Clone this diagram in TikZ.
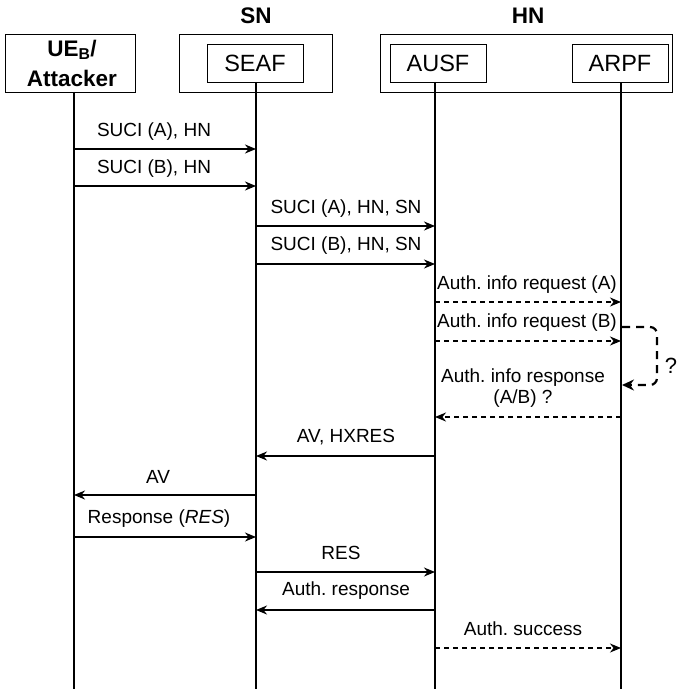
\documentclass[tikz,border=0pt]{standalone}
\usepackage{fontspec}
\setmainfont{Liberation Sans}
\usetikzlibrary{arrows.meta}
\frenchspacing
\begin{document}
\begin{tikzpicture}[x=1pt,y=-1pt,
  frame/.style={draw,line width=0.9pt,inner sep=0pt},
  lbl/.style={font=\fontsize{19}{22}\selectfont,inner sep=0pt,align=center},
  boxlbl/.style={font=\fontsize{23.5}{28}\selectfont},
  boldlbl/.style={font=\fontsize{22.5}{30}\selectfont\bfseries,inner sep=0pt,align=center},
  life/.style={line width=2.4pt},
  msg/.style={line width=1.3pt,-{Stealth[length=11pt,width=9pt,inset=3.5pt]}},
  dmsg/.style={msg,dash pattern=on 5pt off 4pt},
  loopmsg/.style={line width=2.2pt,dash pattern=on 8pt off 6pt,-{Stealth[length=12pt,width=11pt,inset=4pt]}}]
\useasboundingbox (0,0) rectangle (678,690);

% header labels
\node[boldlbl] (snl) at (256,16) {SN};
\node[boldlbl] (hnl) at (528,16) {HN};

% boxes
\node[frame,minimum width=130pt,minimum height=58pt] (uebox) at (70,63) {};
\node[boldlbl] (uetxt) at (72,63) {UE\textsubscript{B}/\\Attacker};
\node[frame,minimum width=153pt,minimum height=58pt] (snbox) at (255.5,63) {};
\node[frame,boxlbl,minimum width=96pt,minimum height=38pt] (seaf) at (255,63) {SEAF};
\node[frame,minimum width=292pt,minimum height=58pt] (hnbox) at (526,63.5) {};
\node[frame,boxlbl,minimum width=96pt,minimum height=38pt] (ausf) at (438,63) {AUSF};
\node[frame,boxlbl,minimum width=96pt,minimum height=38pt] (arpf) at (620,63) {ARPF};

% lifelines
\coordinate (ueT) at (74,92);   \coordinate (ueB) at (74,689);
\coordinate (seT) at (256,82);  \coordinate (seB) at (256,689);
\coordinate (auT) at (435,82);  \coordinate (auB) at (435,689);
\coordinate (arT) at (621,83);  \coordinate (arB) at (621,689);
\draw[life] (ueT) -- (ueB);
\draw[life] (seT) -- (seB);
\draw[life] (auT) -- (auB);
\draw[life] (arT) -- (arB);

% message end points
\foreach \n/\y in {1/149,2/186,3/226,4/264,5/302,6/341,7/417,8/456,9/495,10/537,11/572,12/610,13/648}{
  \coordinate (ue\n) at (74,\y);
  \coordinate (se\n) at (256,\y);
  \coordinate (au\n) at (435,\y);
  \coordinate (ar\n) at (621,\y);
}

% messages
\draw[msg] (ue1) -- (se1);
\node[lbl] (t1) at (154,132) {SUCI (A), HN};
\draw[msg] (ue2) -- (se2);
\node[lbl] (t2) at (154,169) {SUCI (B), HN};
\draw[msg] (se3) -- (au3);
\node[lbl] (t3) at (346,209) {SUCI (A), HN, SN};
\draw[msg] (se4) -- (au4);
\node[lbl] (t4) at (346,246) {SUCI (B), HN, SN};
\draw[dmsg] (au5) -- (ar5);
\node[lbl] (t5) at (527,285) {Auth. info request (A)};
\draw[dmsg] (au6) -- (ar6);
\node[lbl] (t6) at (527,323) {Auth. info request (B)};
\draw[dmsg] (ar7) -- (au7);
\node[lbl] (t7) at (523,388) {Auth. info response\\[-1pt](A/B) ?};
\draw[msg] (au8) -- (se8);
\node[lbl] (t8) at (346,437) {AV, HXRES};
\draw[msg] (se9) -- (ue9);
\node[lbl] (t9) at (158,477) {AV};
\draw[msg] (ue10) -- (se10);
\node[lbl] (t10) at (159,519) {Response (\textit{RES})};
\draw[msg] (se11) -- (au11);
\node[lbl] (t11) at (341,553) {RES};
\draw[msg] (au12) -- (se12);
\node[lbl] (t12) at (346,591) {Auth. response};
\draw[dmsg] (au13) -- (ar13);
\node[lbl] (t13) at (523,629) {Auth. success};

% self loop at ARPF
\coordinate (lpA) at (622,327);
\coordinate (lpB) at (622,385);
\draw[loopmsg,rounded corners=7pt] (lpA) -- (657,327) -- (657,385) -- (lpB);
\node[font=\fontsize{22}{24}\selectfont,inner sep=0pt] (q) at (671,366) {?};
\end{tikzpicture}
\end{document}
